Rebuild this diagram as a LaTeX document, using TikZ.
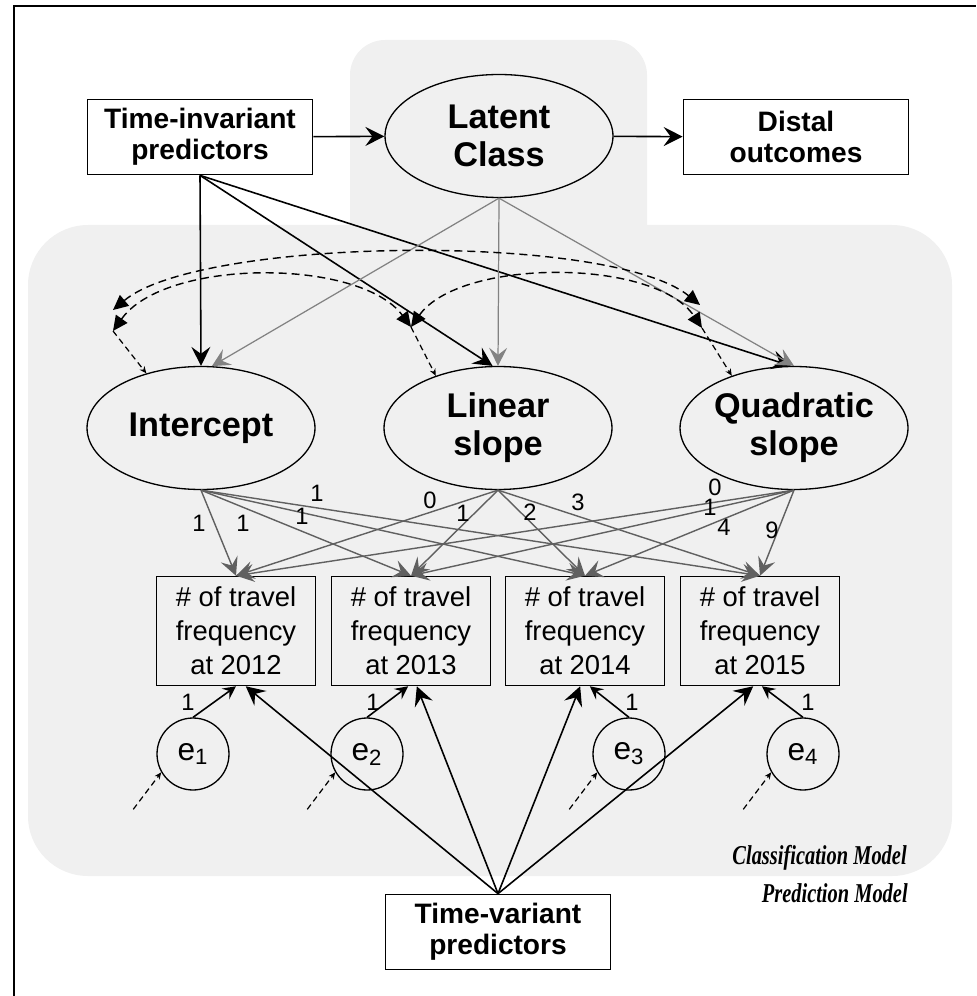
\documentclass[tikz,border=0pt]{standalone}
\usepackage{fontspec}
\usepackage{graphicx}
\setmainfont{Liberation Sans}
\newfontfamily\modelfont{Liberation Serif}
\usetikzlibrary{arrows.meta,calc,positioning,shapes.geometric}
\definecolor{panelcol}{RGB}{240,240,240}
\definecolor{loadcol}{RGB}{96,96,96}
\definecolor{classcol}{RGB}{130,130,130}
\newcommand{\squeeze}[1]{\scalebox{0.75}[1]{#1}}

\begin{document}
\begin{tikzpicture}[x=0.02cm,y=-0.02cm,
  predbox/.style={draw,line width=1pt,align=center,minimum width=4.5cm,minimum height=1.5cm,inner sep=0pt,font=\fontsize{16}{17.6}\selectfont\bfseries},
  growth/.style={draw,ellipse,line width=0.75pt,align=center,minimum width=4.56cm,minimum height=2.46cm,inner sep=0pt,font=\fontsize{19.5}{21.6}\selectfont\bfseries},
  obsbox/.style={draw,line width=0.9pt,align=center,minimum width=3.18cm,minimum height=2.18cm,inner sep=0pt,font=\fontsize{15.6}{19.3}\selectfont},
  resid/.style={draw,circle,line width=0.75pt,minimum size=1.44cm,inner sep=0pt,font=\fontsize{18}{20}\selectfont},
  wt/.style={font=\fontsize{13.5}{14}\selectfont,inner sep=0pt},
  model/.style={font=\modelfont\fontsize{15.5}{17}\selectfont\bfseries\itshape,inner sep=0pt},
  blk/.style={line width=0.9pt,-{Stealth[length=0.38cm,width=0.38cm,inset=0.14cm]}},
  ldg/.style={loadcol,line width=0.8pt,-{Stealth[length=0.36cm,width=0.36cm,inset=0.14cm]}},
  cls/.style={classcol,line width=0.7pt,-{Stealth[length=0.36cm,width=0.36cm,inset=0.14cm]}},
  errarr/.style={line width=0.9pt,-{Stealth[length=0.26cm,width=0.26cm,inset=0.1cm]}},
  cov/.style={dash pattern=on 0.16cm off 0.1cm,line width=0.8pt,{Triangle[length=0.3cm,width=0.28cm]}-{Triangle[length=0.3cm,width=0.28cm]}},
  var/.style={dash pattern=on 0.12cm off 0.08cm,line width=0.7pt,-{Stealth[length=0.14cm,width=0.12cm]}}]
\useasboundingbox (0,0) rectangle (976,996);
% shaded panels
\fill[panelcol,rounded corners=0.7cm] (350,40) rectangle (647,300);
\fill[panelcol,rounded corners=1.2cm] (28,225) rectangle (952,876);
\draw[line width=1.1pt] (14,996) -- (14,6) -- (976,6);

% nodes
\node[predbox] (tinv) at (200,137) {Time-invariant\\predictors};
\node[growth] (class) at (499,136) {Latent\\Class};
\node[predbox] (distal) at (796,137) {Distal\\outcomes};
\node[growth] (icpt) at (201,428) {Intercept};
\node[growth] (lin) at (498,428) {Linear\\slope};
\node[growth] (quad) at (794,428) {Quadratic\\slope};
\foreach \i/\px/\yr in {1/236/2012,2/411/2013,3/585/2014,4/760/2015}
  \node[obsbox] (y\i) at (\px,631) {\# of travel\\frequency\\at \yr};
\foreach \i/\px in {1/193,2/367,3/629,4/803}
  \node[resid] (e\i) at (\px,754) {e\textsubscript{\i}};
\node[predbox] (tvar) at (498,932) {Time-variant\\predictors};
\node[model,anchor=east] (clsmod) at (907,858) {\squeeze{Classification Model}};
\node[model,anchor=east] (prdmod) at (908,893) {\squeeze{Prediction Model}};

% latent class part
\draw[blk] (tinv) -- (class);
\draw[blk] (class) -- (distal);
\draw[blk] (tinv.south) -- (icpt.north);
\draw[blk] (tinv.south) -- (lin.95);
\draw[blk] (tinv.south) -- (quad.93);
\draw[cls] (class.south) -- (icpt.80);
\draw[cls] (class.south) -- (lin.north);
\draw[cls] (class.south) -- (quad.north);

% covariances between growth factors
\coordinate (c1a) at (113,310);
\coordinate (c1b) at (113,331);
\coordinate (c2) at (411,327);
\coordinate (c3a) at (700,305);
\coordinate (c3b) at (702,328);
\draw[cov] (c1a) .. controls (200,237) and (610,232) .. (c3a);
\draw[cov] (c1b) .. controls (165,258) and (360,258) .. (c2);
\draw[cov] (c2) .. controls (460,258) and (655,258) .. (c3b);
\draw[var] (c1b) -- (icpt.135);
\draw[var] (c2) -- (lin.140);
\draw[var] (c3b) -- (quad.140);

% loadings
\foreach \j in {1,...,4} {
  \draw[ldg] (icpt.south) -- (y\j.north);
  \draw[ldg] (lin.south) -- (y\j.north);
  \draw[ldg] (quad.south) -- (y\j.north);
}
\foreach \n/\px/\py/\t in {a1/199/523/1,a2/243/523/1,a3/302/516/1,a4/317/493/1,
    b1/430/500/0,b2/463/513/1,b3/530/512/2,b4/578/502/3,
    q1/715/487/0,q2/710/507/1,q3/724/527/4,q4/772/530/9}
  \node[wt] (w\n) at (\px,\py) {\t};

% residuals
\foreach \i/\a in {1/-90,2/-93,3/-85,4/-88}
  \draw[errarr] (e\i.north) -- (y\i.\a);
\foreach \i/\px in {1/188,2/373,3/632,4/808}
  \node[wt] (r\i) at (\px,702) {1};
\foreach \i in {1,...,4} {
  \coordinate (s\i) at ($(e\i.210)+(-28,37)$);
  \draw[var] (s\i) -- (e\i.210);
}

% time-variant predictors
\foreach \i/\a in {1/-80,2/-84,3/-95,4/-97}
  \draw[blk] (tvar.north) -- (y\i.\a);
\end{tikzpicture}
\end{document}
